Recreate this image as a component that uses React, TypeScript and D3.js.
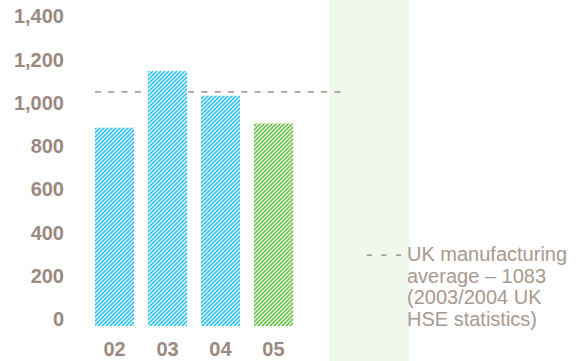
import React from "react";
import * as d3 from "d3";

const categories = ["02", "03", "04", "05"];
const values = [917, 1179, 1065, 937];
const barColors = ["blue", "blue", "blue", "green"];
const yTicks = [0, 200, 400, 600, 800, 1000, 1200, 1400];
const averageValue = 1083;
const legendLines = ["UK manufacturing", "average \u2013 1083", "(2003/2004 UK", "HSE statistics)"];

const W = 586;
const H = 361;

export default function App() {
  const y = d3.scaleLinear().domain([0, 1400]).range([326, 23.3]);
  const x = d3.scaleBand<string>().domain(categories).range([95, 293]).paddingInner(0.264).paddingOuter(0);
  const fmt = d3.format(",");
  const labelColor = "#9a8980";
  const font = "Liberation Sans, Arial, Helvetica, sans-serif";

  return (
    <svg width={W} height={H} style={{ position: "absolute", left: 0, top: 0 }}>
      <defs>
        <pattern id="hatch-blue" patternUnits="userSpaceOnUse" width={4} height={4}>
          <path d="M-1,1 L1,-1 M0,4 L4,0 M3,5 L5,3" stroke="#35c3ee" strokeWidth={1.6} />
        </pattern>
        <pattern id="hatch-green" patternUnits="userSpaceOnUse" width={4} height={4}>
          <path d="M-1,1 L1,-1 M0,4 L4,0 M3,5 L5,3" stroke="#6cc24c" strokeWidth={1.6} />
        </pattern>
      </defs>
      <rect x={0} y={0} width={W} height={H} fill="#ffffff" />
      <rect x={329.5} y={0} width={79.5} height={H} fill="#f0f7ec" />
      <line
        x1={95}
        x2={341}
        y1={y(averageValue)}
        y2={y(averageValue)}
        stroke="#ab9f97"
        strokeWidth={1.6}
        strokeDasharray="6,7.3"
      />
      {categories.map((c, i) => (
        <g key={c}>
          <rect x={x(c)} y={y(values[i])} width={x.bandwidth()} height={y(0) - y(values[i])} fill="#ffffff" />
          <rect
            x={x(c)}
            y={y(values[i])}
            width={x.bandwidth()}
            height={y(0) - y(values[i])}
            fill={`url(#hatch-${barColors[i]})`}
          />
          <text
            x={(x(c) as number) + x.bandwidth() / 2}
            y={356}
            textAnchor="middle"
            fontFamily={font}
            fontWeight="bold"
            fontSize={20}
            fill={labelColor}
          >
            {c}
          </text>
        </g>
      ))}
      {yTicks.map((t) => (
        <text
          key={t}
          x={64}
          y={y(t)}
          textAnchor="end"
          fontFamily={font}
          fontWeight="bold"
          fontSize={20}
          fill={labelColor}
        >
          {fmt(t)}
        </text>
      ))}
      <text x={403} y={261} textAnchor="end" fontFamily={font} fontSize={20} letterSpacing={1.2} fill="#a8998f">
        - - -
      </text>
      {legendLines.map((l, i) => (
        <text key={i} x={407} y={261 + i * 21.7} fontFamily={font} fontSize={20} fill="#a8998f">
          {l}
        </text>
      ))}
    </svg>
  );
}
